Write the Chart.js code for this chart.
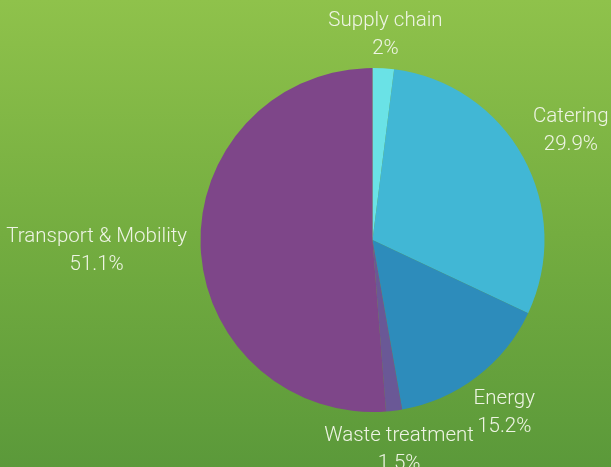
<!DOCTYPE html>
<html>
<head>
<meta charset="utf-8">
<script src="https://cdn.jsdelivr.net/npm/chart.js@4"></script>
<style>
html,body{margin:0;padding:0;}
body{width:611px;height:467px;background:linear-gradient(to bottom,#8fc24b 0%,#74ad40 50%,#5b993a 100%);overflow:hidden;}
#wrap{position:relative;width:611px;height:467px;}
</style>
</head>
<body>
<div id="wrap"><canvas id="c" width="611" height="467"></canvas></div>
<script>
const categories = ["Supply chain", "Catering", "Energy", "Waste treatment", "Transport & Mobility"];
const values = [2, 29.9, 15.2, 1.5, 51.1];
const valueLabels = ["2%", "29.9%", "15.2%", "1.5%", "51.1%"];
const colors = ["#6ae2e6", "#41b7d5", "#2d8cbb", "#6a5896", "#7e4689"];

const outerLabels = {
  id: 'outerLabels',
  afterDatasetsDraw(chart) {
    const ctx = chart.ctx;
    const meta = chart.getDatasetMeta(0);
    ctx.save();
    ctx.font = '300 20.5px Roboto, "Liberation Sans", sans-serif';
    ctx.fillStyle = '#eef4e4';
    ctx.textAlign = 'center';
    ctx.textBaseline = 'middle';
    const lineH = 28;
    meta.data.forEach((arc, i) => {
      const mid = (arc.startAngle + arc.endAngle) / 2;
      const dx = Math.cos(mid), dy = Math.sin(mid);
      const w = Math.max(ctx.measureText(categories[i]).width, ctx.measureText(valueLabels[i]).width);
      const halfH = 17;
      const r = arc.outerRadius + 13;
      const off = Math.abs(dx) * w / 2 + Math.abs(dy) * halfH;
      const cx = arc.x + dx * (r + off);
      const cy = arc.y + dy * (r + off);
      ctx.fillText(categories[i], cx, cy - lineH / 2);
      ctx.fillText(valueLabels[i], cx, cy + lineH / 2);
    });
    ctx.restore();
  }
};

new Chart(document.getElementById('c'), {
  type: 'pie',
  data: {
    labels: categories,
    datasets: [{
      data: values,
      backgroundColor: colors,
      borderWidth: 0
    }]
  },
  options: {
    responsive: false,
    animation: false,
    layout: { padding: { left: 200, right: 66, top: 68, bottom: 55 } },
    plugins: {
      legend: { display: false },
      tooltip: { enabled: false }
    }
  },
  plugins: [outerLabels]
});
</script>
</body>
</html>
